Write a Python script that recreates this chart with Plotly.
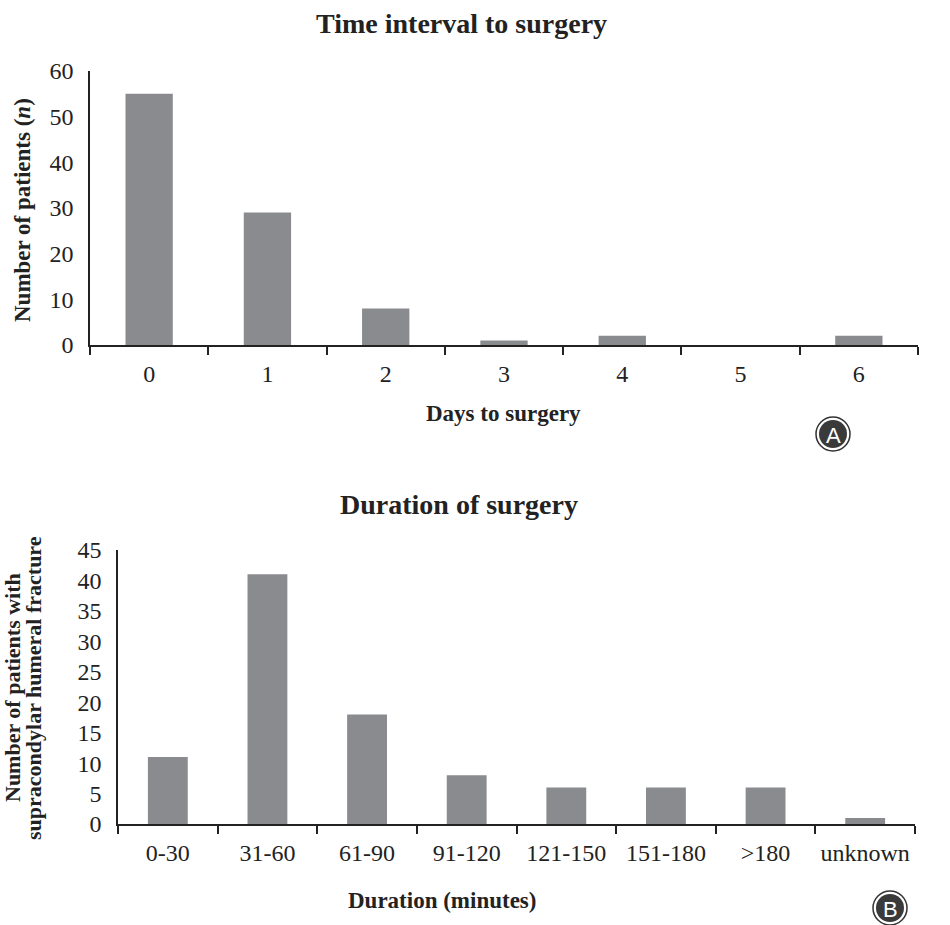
import plotly.graph_objects as go

# Data
days = ["0", "1", "2", "3", "4", "5", "6"]
days_counts = [55, 29, 8, 1, 2, 0, 2]
durations = ["0-30", "31-60", "61-90", "91-120", "121-150", "151-180", ">180", "unknown"]
duration_counts = [11, 41, 18, 8, 6, 6, 6, 1]

W, H = 950, 925
def px_x(x): return x / W
def px_y(y): return 1 - y / H

BAR = "#8a8b8e"
AX = "#222222"
FONT = "Liberation Serif"

fig = go.Figure()
fig.add_trace(go.Bar(x=days, y=days_counts, marker_color=BAR, width=0.4,
                     xaxis="x", yaxis="y", showlegend=False, hoverinfo="skip"))
fig.add_trace(go.Bar(x=durations, y=duration_counts, marker_color=BAR, width=0.4,
                     xaxis="x2", yaxis="y2", showlegend=False, hoverinfo="skip"))

xcommon = dict(type="category", showline=True, linecolor=AX, linewidth=1.5,
               ticks="outside", ticklen=8, tickcolor=AX, tickwidth=1.5,
               tickson="boundaries", showgrid=False, zeroline=False, automargin=False,
               tickfont=dict(family=FONT, size=24, color=AX), ticklabelstandoff=6)
ycommon = dict(showline=True, linecolor=AX, linewidth=1.5, ticks="", showgrid=False,
               zeroline=False, automargin=False,
               tickfont=dict(family=FONT, size=24, color=AX), ticklabelstandoff=10)

fig.update_layout(
    template="none",
    width=W, height=H, margin=dict(l=0, r=0, t=0, b=0, pad=0, autoexpand=False),
    plot_bgcolor="white", paper_bgcolor="white", bargap=0.6,
    xaxis=dict(**xcommon, domain=[px_x(90), px_x(918)], anchor="y", range=[-0.5, 6.5]),
    yaxis=dict(**ycommon, domain=[px_y(345), px_y(71)], anchor="x", range=[0, 60], dtick=10),
    xaxis2=dict(**xcommon, domain=[px_x(118), px_x(915)], anchor="y2", range=[-0.5, 7.5]),
    yaxis2=dict(**ycommon, domain=[px_y(824), px_y(550)], anchor="x2", range=[0, 45], dtick=5),
)

def ann(text, x, y, size, angle=0, color=AX, family=FONT):
    fig.add_annotation(text=text, x=px_x(x), y=px_y(y), xref="paper", yref="paper",
                       showarrow=False, textangle=angle, xanchor="center", yanchor="middle",
                       font=dict(family=family, size=size, color=color))

ann("<b>Time interval to surgery</b>", 461, 24, 28)
ann("<b>Days to surgery</b>", 503, 413, 23)
ann("<b>Number of patients (<i>n</i>)</b>", 22, 210, 23, angle=-90)
ann("<b>Duration of surgery</b>", 459, 504, 28)
ann("<b>Duration (minutes)</b>", 442, 900, 23)
ann("<b>Number of patients with</b>", 12, 688, 22, angle=-90)
ann("<b>supracondylar humeral fracture</b>", 33, 688, 22, angle=-90)

# Circled panel labels
for lab, cx, cy in [("A", 833, 434), ("B", 890, 908)]:
    r = 17
    fig.add_shape(type="circle", xref="paper", yref="paper",
                  x0=px_x(cx - r), x1=px_x(cx + r), y0=px_y(cy + r), y1=px_y(cy - r),
                  fillcolor="white", line=dict(color="#333333", width=1.5))
    r2 = 14
    fig.add_shape(type="circle", xref="paper", yref="paper",
                  x0=px_x(cx - r2), x1=px_x(cx + r2), y0=px_y(cy + r2), y1=px_y(cy - r2),
                  fillcolor="#3a3a3a", line=dict(width=0))
    ann(lab, cx, cy + 1, 22, color="white", family="Liberation Sans")

fig.write_html("out.html", config={"displayModeBar": False},
               post_script="document.body.style.margin='0px';document.body.style.overflow='hidden';")
